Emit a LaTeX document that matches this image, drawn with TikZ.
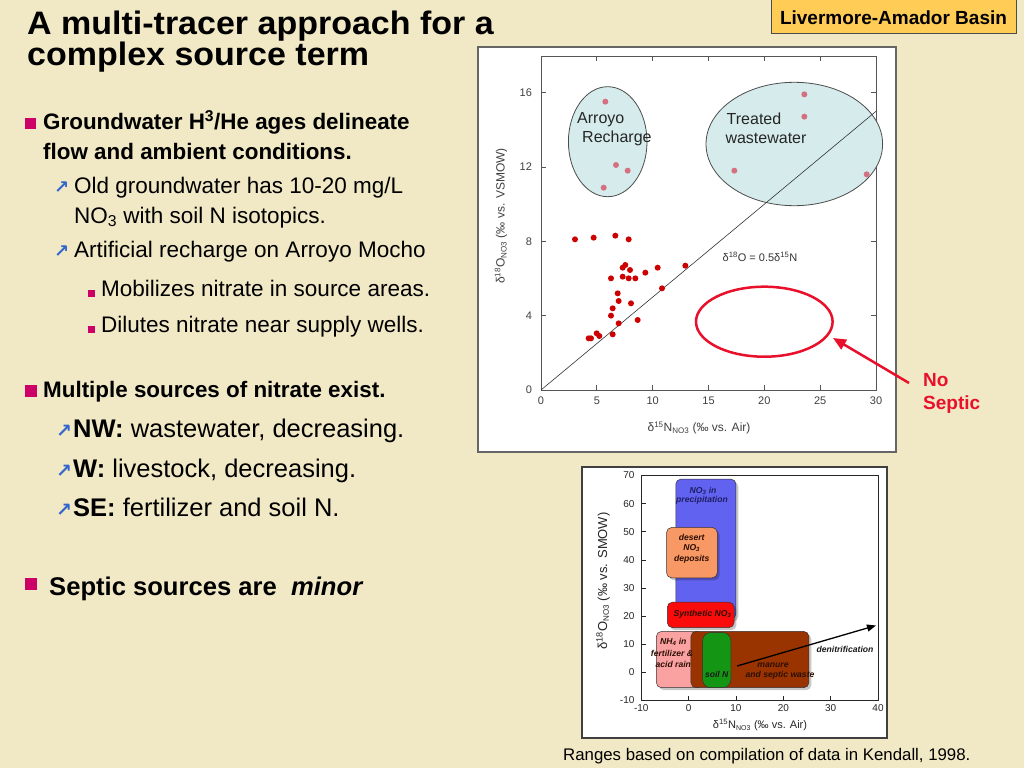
\documentclass[tikz,border=0pt]{standalone}
\usepackage{fontspec}
\setmainfont{Liberation Sans}
\newfontfamily\djv{DejaVu Sans}
\usetikzlibrary{arrows.meta,shapes.geometric}
\newcommand{\myfs}[1]{\fontsize{#1}{#1}\selectfont}
\definecolor{bgc}{RGB}{241,233,197}
\definecolor{bulmag}{RGB}{204,0,102}
\definecolor{arrblue}{RGB}{51,102,204}
\definecolor{lbl}{RGB}{255,204,85}
\definecolor{cyanfill}{RGB}{214,236,236}
\definecolor{ptred}{RGB}{204,0,0}
\definecolor{ptpink}{RGB}{212,112,128}
\definecolor{sepred}{RGB}{232,16,42}
\definecolor{axg}{RGB}{85,85,85}
\definecolor{bblue}{RGB}{98,98,240}
\definecolor{borange}{RGB}{248,152,100}
\definecolor{bred}{RGB}{250,12,12}
\definecolor{bpink}{RGB}{250,162,162}
\definecolor{bbrown}{RGB}{153,51,0}
\definecolor{bgreen}{RGB}{20,150,20}
\definecolor{navy}{RGB}{30,30,100}
\definecolor{dkbr}{RGB}{45,15,5}
\begin{document}
\begin{tikzpicture}[x=1pt,y=-1pt,
  txt/.style={inner sep=0pt,anchor=base west},
  ctr/.style={inner sep=0pt,anchor=base},
  rdot/.style={circle,fill=ptred,inner sep=0pt,minimum size=6pt},
  pdot/.style={circle,fill=ptpink,inner sep=0pt,minimum size=6pt},
  tickA/.style={draw=axg,line width=0.7pt},
  boxtxt/.style={inner sep=0pt,font=\bfseries\itshape\myfs{8.6},align=center},
  srcbox/.style={draw=black!80,line width=0.5pt,rounded corners=5pt},
  shad/.style={fill=black,opacity=0.22,rounded corners=5pt},
  bsq/.style={fill=bulmag},
  uarr/.style={inner sep=0pt,anchor=base west,text=arrblue,font=\djv\bfseries\myfs{18}},
  subt/.style={inner sep=0pt,anchor=base west,font=\myfs{22.5}},
  subb/.style={inner sep=0pt,anchor=base west,font=\myfs{25.5}},
  mainb/.style={inner sep=0pt,anchor=base west,font=\bfseries\myfs{22.4}}]
\useasboundingbox (0,0) rectangle (1024,768);
\fill[bgc] (0,0) rectangle (1024,768);

% ---------- title ----------
\node[txt,align=left,font=\bfseries\fontsize{32.5}{30.7}\selectfont] (title) at (27,65.7) {\scalebox{1.046}[1]{A multi-tracer approach for a}\\\scalebox{1.046}[1]{complex source term}};

\draw[draw=black!70,fill=lbl,line width=0.8pt] (771,-1) rectangle (1016,33);
\node[ctr,font=\bfseries\myfs{19}] (basin) at (893.5,25) {Livermore-Amador Basin};

% ---------- left text ----------
\fill[bsq] (25,118) rectangle (36,129);
\node[mainb] (b1a) at (43,129) {Groundwater H\textsuperscript{3}/He ages delineate};
\node[mainb] (b1b) at (43,159) {flow and ambient conditions.};
\node[uarr] (a1) at (54,193) {↗};
\node[subt] (s1a) at (74,193) {Old groundwater has 10-20 mg/L};
\node[subt] (s1b) at (74,223) {NO\textsubscript{3} with soil N isotopics.};
\node[uarr] (a2) at (54,257) {↗};
\node[subt] (s2) at (74,257) {Artificial recharge on Arroyo Mocho};
\fill[bsq] (88,290) rectangle (95,297);
\node[subt] (ss1) at (101,296) {Mobilizes nitrate in source areas.};
\fill[bsq] (88,326) rectangle (95,333);
\node[subt] (ss2) at (101,332) {Dilutes nitrate near supply wells.};

\fill[bsq] (25,385) rectangle (37,397);
\node[mainb] (b2) at (43,397) {Multiple sources of nitrate exist.};
\node[uarr,font=\djv\bfseries\myfs{19}] (a3) at (56,437) {↗};
\node[subb] (n1) at (73,437) {\textbf{NW:} wastewater, decreasing.};
\node[uarr,font=\djv\bfseries\myfs{19}] (a4) at (56,477) {↗};
\node[subb] (n2) at (73,477) {\textbf{W:} livestock, decreasing.};
\node[uarr,font=\djv\bfseries\myfs{19}] (a5) at (56,516) {↗};
\node[subb] (n3) at (73,516) {\textbf{SE:} fertilizer and soil N.};

\fill[bsq] (25,578) rectangle (37,590);
\node[txt,font=\bfseries\myfs{25.6}] (b3) at (49,595) {Septic sources are\ \ \textit{minor}};

% ---------- top plot ----------
\draw[fill=white,draw=black!60,line width=1.2pt] (478,47) rectangle (896,452);
\draw[axg,line width=0.7pt] (541,56) rectangle (876,390);
\begin{scope}[shift={(541,390)},x=11.1667pt,y=18.58pt]
  \foreach \k in {5,10,15,20,25} {
    \draw[tickA] (\k,0) -- ++(0,0.27);
    \draw[tickA] (\k,17.97) -- ++(0,-0.27);
  }
  \foreach \v in {4,8,12,16} {
    \draw[tickA] (0,\v) -- ++(0.45,0);
    \draw[tickA] (30,\v) -- ++(-0.45,0);
  }
  \foreach \k in {0,5,10,15,20,25,30}
    \node[inner sep=0pt,anchor=north,font=\myfs{11},text=black!75] (xl\k) at (\k,-0.38) {\k};
  \foreach \v in {0,4,8,12,16}
    \node[inner sep=0pt,anchor=east,font=\myfs{11},text=black!75] (yl\v) at (-0.8,\v) {\v};
\end{scope}
\node[inner sep=0pt,font=\myfs{12},text=black!75] (xt) at (699,428) {δ\textsuperscript{15}N\textsubscript{\myfs{8}NO3} (‰ vs. Air)};
\node[inner sep=0pt,font=\myfs{12},text=black!75,rotate=90] (yt) at (501,216) {δ\textsuperscript{18}O\textsubscript{\myfs{8}NO3} (‰ vs. VSMOW)};

\node[ellipse,draw=black!70,fill=cyanfill,line width=0.8pt,inner sep=0pt,minimum width=78.6pt,minimum height=110pt] (arroyo) at (607.7,141.7) {};
\node[ellipse,draw=black!70,fill=cyanfill,line width=0.8pt,inner sep=0pt,minimum width=176.6pt,minimum height=123.4pt] (treated) at (794.3,144) {};

\coordinate (d0) at (541,390);
\coordinate (d1) at (876,111.3);
\draw[black!80,line width=0.6pt] (d0) -- (d1);
\node[inner sep=0pt,font=\myfs{11},text=black!80] (eq) at (760,257) {δ\textsuperscript{18}O = 0.5δ\textsuperscript{15}N};

\node[txt,font=\myfs{16},text=black!85] (ar1) at (577,123) {Arroyo};
\node[txt,font=\myfs{16},text=black!85] (ar2) at (582,142) {Recharge};
\node[txt,font=\myfs{16},text=black!85] (tw1) at (726.5,124) {Treated};
\node[txt,font=\myfs{16},text=black!85] (tw2) at (725.3,143.3) {wastewater};

\begin{scope}[shift={(476,45)},x=0.33333pt,y=-0.33333pt]
  \foreach \a/\b in {388/170,420/360,455/377,383/428,985/148,985/215,775/377,1172/388}
    \node[pdot] at (\a,\b) {};
  \foreach \a/\b in {297/583,353/578,418/572,458/583,440/668,448/660,462/675,
      405/700,440/695,458/700,478/700,508/683,545/668,628/662,558/730,
      425/745,428/768,465/775,410/790,405/812,428/835,485/825,
      338/880,345/880,362/865,370/873,410/868}
    \node[rdot] at (\a,\b) {};
\end{scope}

\node[ellipse,draw=sepred,line width=2.5pt,inner sep=0pt,minimum width=136.6pt,minimum height=70pt] (septic) at (764.3,321.7) {};
\coordinate (nsTail) at (909,383);
\coordinate (nsTip) at (833,338);
\draw[sepred,line width=2.5pt,-{Triangle[length=13pt,width=11pt]}] (nsTail) -- (nsTip);
\node[txt,font=\bfseries\myfs{19},text=sepred] (no) at (923,386) {No};
\node[txt,font=\bfseries\myfs{19},text=sepred] (sep) at (923,409) {Septic};

% ---------- bottom chart ----------
\draw[fill=white,draw=black!75,line width=1.2pt] (582,467) rectangle (887,738);
\draw[black!85,line width=0.6pt] (641,475) rectangle (878,700);
\begin{scope}[shift={(688.6,672.2)},x=4.735pt,y=2.81pt]
  \foreach \v in {-10,0,10,20,30,40,50,60,70} {
    \draw[black!85,line width=0.6pt] (-10,\v) -- ++(0.9,0);
    \node[inner sep=0pt,anchor=east,font=\myfs{10},text=black!85] (by\v) at (-11.4,\v) {\v};
  }
  \foreach \k in {-10,0,10,20,30,40} {
    \draw[black!85,line width=0.6pt] (\k,-10) -- ++(0,1.5);
    \node[inner sep=0pt,anchor=north,font=\myfs{10},text=black!85] (bx\k) at (\k,-11.5) {\k};
  }
  % shadows
  \fill[shad] (-2.7+0.5,19-0.9) rectangle (10+0.5,68.7-0.9);
  \fill[srcbox,fill=bblue] (-2.7,19) rectangle (10,68.7);
  \fill[shad] (-4.65+0.5,33.6-0.9) rectangle (6.05+0.5,51.5-0.9);
  \fill[srcbox,fill=borange] (-4.65,33.6) rectangle (6.05,51.5);
  \fill[shad] (-4.5+0.5,15.9-0.9) rectangle (9.6+0.5,24.9-0.9);
  \fill[srcbox,fill=bred] (-4.5,15.9) rectangle (9.6,24.9);
  \fill[shad] (-6.8+0.5,-5.5-0.9) rectangle (25.4+0.5,14.5-0.9);
  \fill[srcbox,fill=bpink] (-6.8,-5.5) rectangle (3,14.5);
  \fill[srcbox,fill=bbrown] (0.5,-5.5) rectangle (25.4,14.5);
  \fill[srcbox,fill=bgreen,rounded corners=8pt] (2.96,-5.5) rectangle (8.9,14.1);
\end{scope}
\node[boxtxt,text=navy] (pr1) at (703,490.5) {NO\textsubscript{3} in};
\node[boxtxt,text=navy] (pr2) at (702,500.7) {precipitation};
\node[boxtxt,text=dkbr] (de1) at (691.7,537.3) {desert};
\node[boxtxt,text=dkbr] (de2) at (691.7,548) {NO\textsubscript{3}};
\node[boxtxt,text=dkbr] (de3) at (691.7,559.3) {deposits};
\node[boxtxt,text=dkbr] (syn) at (702.5,614.3) {Synthetic NO\textsubscript{3}};
\node[boxtxt,text=dkbr] (nh1) at (673.3,641.7) {NH\textsubscript{4} in};
\node[boxtxt,text=dkbr] (nh2) at (672,653.3) {fertilizer \&};
\node[boxtxt,text=dkbr] (nh3) at (673.3,664) {acid rain};
\node[boxtxt,text=black!90] (soil) at (716.7,674) {soil N};
\node[boxtxt,text=dkbr] (ma1) at (773,665) {manure};
\node[boxtxt,text=dkbr] (ma2) at (780,675.7) {and septic waste};
\node[boxtxt,text=black!90] (den) at (845,649) {denitrification};
\coordinate (dnTail) at (737,666);
\coordinate (dnTip) at (876,625.5);
\draw[black,line width=1.3pt,-{Triangle[length=9pt,width=7pt]}] (dnTail) -- (dnTip);

\node[inner sep=0pt,font=\myfs{11},text=black!85] (bxt) at (760,725) {δ\textsuperscript{15}N\textsubscript{\myfs{7}NO3} (‰ vs. Air)};
\node[inner sep=0pt,font=\myfs{13},text=black!85,rotate=90] (byt) at (603,581) {δ\textsuperscript{18}O\textsubscript{\myfs{8}NO3} (‰ vs. SMOW)};

\node[txt,font=\myfs{16.8}] (cap) at (563,760) {Ranges based on compilation of data in Kendall, 1998.};
\end{tikzpicture}
\end{document}
